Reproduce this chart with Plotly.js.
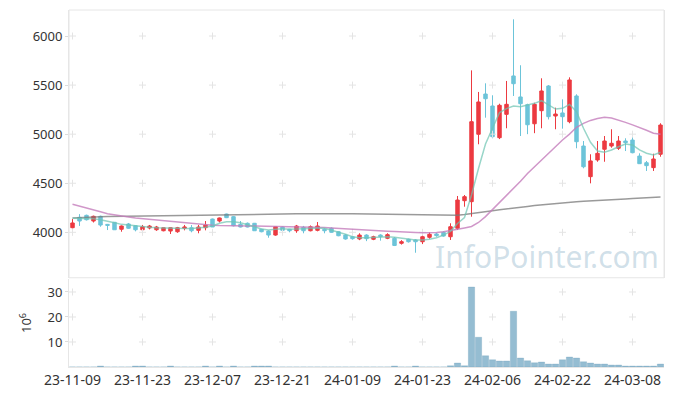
<!DOCTYPE html>
<html>
<head>
<meta charset="utf-8">
<script src="https://cdn.plot.ly/plotly-3.0.1.min.js"></script>
<style>html,body{margin:0;padding:0;background:#fff;}#chart{width:673px;height:396px;}</style>
</head>
<body>
<div id="chart"></div>
<script>
const dates = [
"23-11-09","23-11-10","23-11-13","23-11-14","23-11-15","23-11-16","23-11-17","23-11-20","23-11-21","23-11-22",
"23-11-23","23-11-24","23-11-27","23-11-28","23-11-29","23-11-30","23-12-01","23-12-04","23-12-05","23-12-06",
"23-12-07","23-12-08","23-12-11","23-12-12","23-12-13","23-12-14","23-12-15","23-12-18","23-12-19","23-12-20",
"23-12-21","23-12-22","23-12-26","23-12-27","23-12-28","24-01-02","24-01-03","24-01-04","24-01-05","24-01-08",
"24-01-09","24-01-10","24-01-11","24-01-12","24-01-15","24-01-16","24-01-17","24-01-18","24-01-19","24-01-22",
"24-01-23","24-01-24","24-01-25","24-01-26","24-01-29","24-01-30","24-01-31","24-02-01","24-02-02","24-02-05",
"24-02-06","24-02-07","24-02-08","24-02-13","24-02-14","24-02-15","24-02-16","24-02-19","24-02-20","24-02-21",
"24-02-22","24-02-23","24-02-26","24-02-27","24-02-28","24-02-29","24-03-04","24-03-05","24-03-06","24-03-07",
"24-03-08","24-03-11","24-03-12","24-03-13","24-03-14"];

const opens = [
4047,4153,4173,4115,4163,4081,4102,4031,4085,4067,
4026,4044,4026,4016,4013,4006,4041,4047,4020,4047,
4135,4115,4186,4159,4081,4092,4092,4031,4013,3972,
4054,4031,4016,4051,4016,4020,4031,4041,4006,3972,
3955,3932,3972,3929,3972,3939,3939,3888,3929,3922,
3904,3949,3983,4000,3955,4041,4322,4312,4999,5409,
5287,4964,5202,5593,5379,5300,5106,5239,5491,5185,
5216,5127,5389,4879,4567,4737,4846,4879,4856,4930,
4940,4777,4709,4659,4795];
const highs = [
4135,4185,4180,4170,4170,4085,4105,4070,4095,4070,
4075,4075,4065,4050,4050,4055,4075,4075,4075,4115,
4140,4150,4190,4165,4115,4100,4095,4035,4020,4060,
4060,4035,4075,4065,4070,4105,4040,4050,4010,3980,
3960,3990,3980,3965,3980,3990,3950,3920,3935,3930,
3990,4000,3995,4010,4092,4370,4380,5650,5430,5518,
5396,5310,5542,6170,5702,5310,5320,5569,5500,5270,
5355,5579,5406,4930,4795,4930,4981,5050,4981,4958,
4974,4805,4727,4801,5111];
const lows = [
4040,4065,4120,4100,4057,4023,4026,4006,4035,4010,
4010,4030,4015,4010,3983,3995,4020,4000,3990,4020,
4054,4100,4145,4060,4050,4050,4016,4000,3945,3965,
4010,4000,3995,3990,4010,4010,3990,3995,3960,3925,
3925,3920,3910,3920,3915,3930,3860,3875,3895,3792,
3880,3935,3955,3955,3922,4023,4261,4159,4897,5168,
4958,4950,5060,5389,4981,5000,5010,5060,5150,5050,
5056,5111,4856,4652,4499,4719,4719,4862,4839,4828,
4805,4696,4625,4625,4770];
const closes = [
4095,4115,4128,4163,4074,4071,4026,4064,4041,4026,
4057,4064,4054,4047,4047,4047,4054,4016,4054,4074,
4054,4146,4149,4067,4054,4054,4016,4006,3972,4057,
4020,4016,4064,4016,4057,4064,4016,4000,3965,3932,
3935,3972,3935,3955,3955,3976,3866,3904,3904,3904,
3955,3980,3966,3962,4057,4329,4363,5127,5328,5361,
4974,5294,5304,5514,5310,5096,5304,5440,5178,5205,
5178,5552,4923,4668,4727,4805,4930,4907,4930,4913,
4811,4699,4679,4747,5093];
// volume, millions of shares
const volumes = [
0.02,0.02,0.02,0.02,0.4,0.02,0.02,0.02,0.02,0.4,
0.4,0.02,0.02,0.02,0.4,0.02,0.02,0.02,0.02,0.4,
0.02,0.4,0.02,0.4,0.02,0.02,0.4,0.4,0.4,0.02,
0.02,0.02,0.02,0.02,0.02,0.02,0.02,0.02,0.02,0.02,
0.02,0.02,0.02,0.02,0.02,0.02,0.4,0.02,0.02,0.4,
0.02,0.02,0.02,0.02,0.5,1.6,0.5,32.0,11.9,4.5,
2.9,2.4,2.4,22.3,3.6,2.5,1.7,2.0,1.2,1.2,
2.9,4.0,3.6,2.1,1.6,1.2,1.2,0.8,0.8,0.4,
0.4,0.4,0.4,0.4,1.2];
const ma5 = [
4143,4141,4140,4139,4128,4115,4098,4081,4072,4064,
4057,4051,4046,4043,4041,4040,4040,4040,4042,4051,
4064,4092,4108,4108,4098,4081,4057,4034,4023,4031,
4037,4031,4034,4041,4041,4041,4041,4023,4000,3980,
3955,3945,3945,3949,3955,3955,3950,3939,3929,3922,
3922,3929,3945,3972,4010,4090,4150,4380,4650,4900,
5060,5220,5260,5287,5280,5297,5314,5341,5297,5256,
5263,5304,5229,5060,4917,4828,4815,4839,4872,4900,
4890,4839,4805,4788,4815];
const ma20 = [
4285,4268,4250,4230,4210,4190,4176,4165,4155,4145,
4138,4130,4122,4115,4108,4100,4094,4088,4082,4076,
4072,4069,4066,4065,4064,4064,4065,4064,4062,4060,
4058,4056,4054,4052,4051,4050,4048,4045,4040,4035,
4030,4026,4022,4018,4015,4012,4008,4003,4000,3998,
3996,3996,3998,4005,4016,4030,4045,4060,4100,4160,
4230,4300,4370,4440,4520,4600,4670,4740,4800,4870,
4940,5000,5070,5110,5140,5160,5172,5165,5145,5120,
5095,5070,5040,5010,5000];
const maLong = [
4145,4150,4153,4156,4158,4160,4161,4162,4163,4164,
4165,4165,4166,4166,4167,4167,4168,4168,4169,4169,
4170,4171,4172,4173,4174,4175,4176,4178,4180,4182,
4184,4186,4188,4190,4191,4192,4192,4191,4190,4189,
4188,4187,4186,4185,4184,4183,4182,4181,4180,4179,
4176,4174,4172,4171,4172,4175,4182,4190,4200,4210,
4220,4230,4240,4248,4256,4264,4272,4280,4287,4294,
4300,4306,4312,4317,4322,4326,4330,4334,4337,4340,
4344,4348,4352,4356,4360];

const tickLabels = ["23-11-09","23-11-23","23-12-07","23-12-21","24-01-09","24-01-23","24-02-06","24-02-22","24-03-08"];
const priceTicks = [4000,4500,5000,5500,6000];
const volTicks = [10,20,30];

const gridX = [], gridY = [], gridX2 = [], gridY2 = [];
tickLabels.forEach(d => {
  priceTicks.forEach(v => { gridX.push(d); gridY.push(v); });
  volTicks.forEach(v => { gridX2.push(d); gridY2.push(v); });
});

const fontFam = '"Noto Sans", "Open Sans", sans-serif';
const red = '#ec3a40', blue = '#6cc4d9';

const traces = [
  {type:'candlestick', x:dates, open:opens, high:highs, low:lows, close:closes, xaxis:'x', yaxis:'y', showlegend:false,
   whiskerwidth:0,
   increasing:{line:{color:red, width:1}, fillcolor:red},
   decreasing:{line:{color:blue, width:1}, fillcolor:blue}},
  {type:'bar', x:dates, y:volumes, xaxis:'x', yaxis:'y2', showlegend:false,
   marker:{color:'rgba(130,178,202,0.85)', line:{color:'rgba(90,145,175,0.6)', width:0.4}}},
  {type:'scatter', mode:'markers', x:gridX, y:gridY, xaxis:'x', yaxis:'y', hoverinfo:'skip', showlegend:false,
   marker:{symbol:'cross-thin', size:5, line:{color:'#e4e4e4', width:1}}},
  {type:'scatter', mode:'markers', x:gridX2, y:gridY2, xaxis:'x', yaxis:'y2', hoverinfo:'skip', showlegend:false,
   marker:{symbol:'cross-thin', size:5, line:{color:'#e4e4e4', width:1}}},
  {type:'scatter', mode:'lines', x:dates, y:maLong, xaxis:'x', yaxis:'y', showlegend:false,
   line:{color:'rgba(120,120,120,0.75)', width:1.5}},
  {type:'scatter', mode:'lines', x:dates, y:ma20, xaxis:'x', yaxis:'y', showlegend:false,
   line:{color:'rgba(196,125,188,0.8)', width:1.5}},
  {type:'scatter', mode:'lines', x:dates, y:ma5, xaxis:'x', yaxis:'y', showlegend:false,
   line:{color:'rgba(110,196,178,0.7)', width:1.5}}
];

const layout = {
  width:673, height:396,
  margin:{l:69, r:9, t:10, b:29},
  paper_bgcolor:'#fff', plot_bgcolor:'#fff',
  font:{family:fontFam, size:13, color:'#333'},
  bargap:0.1,
  xaxis:{type:'category', categoryorder:'array', categoryarray:dates,
    range:[-0.5, dates.length-0.5], anchor:'y2',
    tickmode:'array', tickvals:tickLabels, ticktext:tickLabels,
    showgrid:false, zeroline:false, ticks:'', showline:true, linecolor:'#e6e6e6',
    rangeslider:{visible:false}, tickfont:{size:14, color:'#333'}},
  yaxis:{domain:[0.25,1], range:[3537,6265], tickmode:'array', tickvals:priceTicks,
    showgrid:false, zeroline:false, ticks:'outside', ticklen:3, tickcolor:'#dcdcdc',
    showline:true, linecolor:'#e6e6e6', mirror:true, tickfont:{size:13, color:'#333'}},
  yaxis2:{domain:[0,0.2465], range:[0,35.2], tickmode:'array', tickvals:volTicks,
    showgrid:false, zeroline:false, ticks:'outside', ticklen:3, tickcolor:'#dcdcdc',
    showline:true, linecolor:'#e6e6e6', tickfont:{size:13, color:'#333'},
    title:{text:'10<sup>6</sup>', standoff:12, font:{size:13, color:'#333'}}},
  shapes:[
    {type:'rect', xref:'paper', yref:'y domain', x0:0, x1:1, y0:0, y1:1, line:{color:'#e6e6e6', width:1}}
  ],
  annotations:[
    {text:'InfoPointer.com', xref:'paper', yref:'paper', x:0.803, y:0.31, xanchor:'center', yanchor:'middle', showarrow:false,
     font:{family:'"Noto Sans", sans-serif', size:30, color:'rgba(150,185,205,0.45)'}}
  ]
};

Plotly.newPlot('chart', traces, layout, {displayModeBar:false, staticPlot:true});
</script>
</body>
</html>
